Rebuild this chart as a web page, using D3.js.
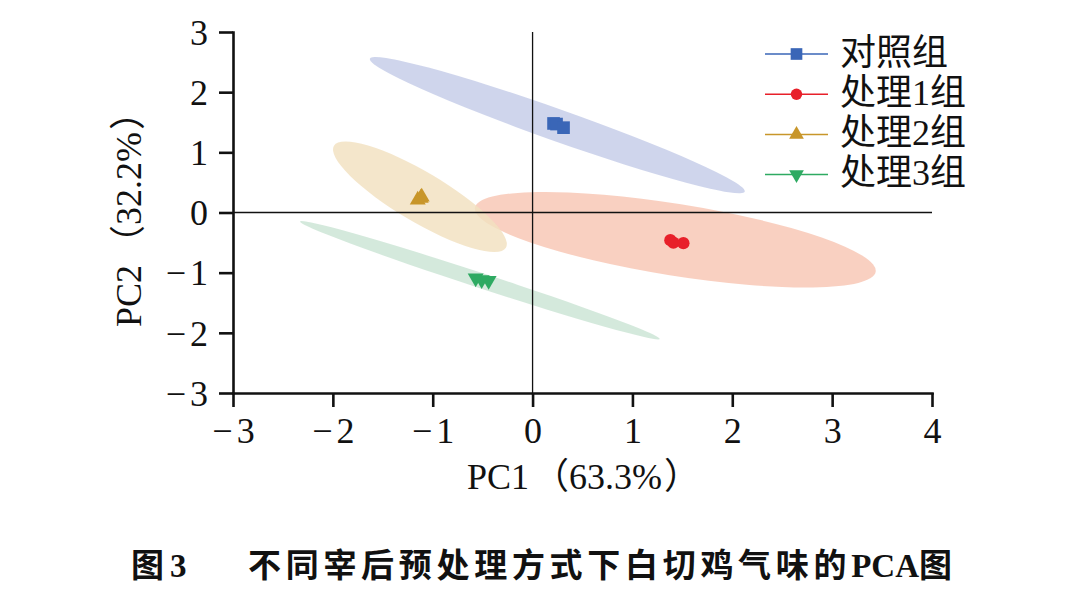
<!DOCTYPE html>
<html>
<head>
<meta charset="utf-8">
<script src="https://cdn.jsdelivr.net/npm/d3@7"></script>
<style>
  body { margin: 0; background: #fff; }
  svg text {
    font-family: "Liberation Serif", "Noto Sans CJK SC", serif; fill: #111;
    text-spacing-trim: space-all; font-feature-settings: "chws" 0, "halt" 0;
  }
  .axis path, .axis line { stroke: #111; stroke-width: 2.6; }
  .axis text { font-size: 36px; }
</style>
</head>
<body>
<svg id="pca" width="1080" height="595"></svg>
<script>
// groups
const groups = ["对照组", "处理1组", "处理2组", "处理3组"];
const groupColors = ["#3a66b7", "#e8202a", "#c8962a", "#2eaa62"];
const ellipseColors = ["#c5cce8", "#f8c6b3", "#f1e1c0", "#cbe4d4"];

// sample scores (PC1, PC2)
const ctrlX = [0.21, 0.24, 0.31];
const ctrlY = [1.48, 1.47, 1.41];
const t1X = [1.38, 1.41, 1.51];
const t1Y = [-0.46, -0.50, -0.51];
const t2X = [-1.15, -1.12, -1.11];
const t2Y = [0.21, 0.24, 0.26];
const t3X = [-0.57, -0.51, -0.44];
const t3Y = [-1.09, -1.12, -1.13];

// confidence ellipses: centre, major semi-axis vector, minor/major ratio
const ellipseCx = [0.248, 1.429, -1.128, -0.528];
const ellipseCy = [1.452, -0.453, 0.261, -1.126];
const ellipseAx = [1.877, 2.007, 0.861, 1.802];
const ellipseAy = [-1.103, -0.532, -0.847, -0.977];
const ellipseRatio = [0.08, 0.177, 0.25, 0.04];

const xTicks = [-3, -2, -1, 0, 1, 2, 3, 4];
const yTicks = [-3, -2, -1, 0, 1, 2, 3];

const xAxisLabel = ["PC1", "（", "63.3%", "）"];
const yAxisLabel = ["PC2", "（", "32.2%", "）"];
const captionFig = ["图", "3"];
const captionText = "不同宰后预处理方式下白切鸡气味的";
const captionEnd = ["PCA", "图"];

const svg = d3.select("#pca");
const margin = { top: 32, left: 233, right: 148, bottom: 202 };
const width = 1080, height = 595;

const xScale = d3.scaleLinear().domain([-3, 4]).range([margin.left, width - margin.right]);
const yScale = d3.scaleLinear().domain([-3, 3]).range([height - margin.bottom, margin.top]);

const series = [
  { xs: ctrlX, ys: ctrlY, sym: d3.symbolSquare, size: 160, rot: 0 },
  { xs: t1X, ys: t1Y, sym: d3.symbolCircle, size: 120, rot: 0 },
  { xs: t2X, ys: t2Y, sym: d3.symbolTriangle, size: 110, rot: 0 },
  { xs: t3X, ys: t3Y, sym: d3.symbolTriangle, size: 110, rot: 180 }
];

// ellipses
const ellG = svg.append("g");
groups.forEach((g, i) => {
  const cx = xScale(ellipseCx[i]), cy = yScale(ellipseCy[i]);
  const ex = xScale(ellipseCx[i] + ellipseAx[i]), ey = yScale(ellipseCy[i] + ellipseAy[i]);
  const rx = Math.hypot(ex - cx, ey - cy);
  const ang = Math.atan2(ey - cy, ex - cx) * 180 / Math.PI;
  ellG.append("ellipse")
    .attr("cx", 0).attr("cy", 0)
    .attr("rx", rx).attr("ry", rx * ellipseRatio[i])
    .attr("transform", `translate(${cx},${cy}) rotate(${ang})`)
    .attr("fill", ellipseColors[i])
    .attr("fill-opacity", 0.82);
});

// zero lines
svg.append("line")
  .attr("x1", xScale(0)).attr("x2", xScale(0))
  .attr("y1", yScale(3)).attr("y2", yScale(-3))
  .attr("stroke", "#111").attr("stroke-width", 1.3);
svg.append("line")
  .attr("x1", xScale(-3)).attr("x2", xScale(4))
  .attr("y1", yScale(0)).attr("y2", yScale(0))
  .attr("stroke", "#111").attr("stroke-width", 1.3);

// minus sign with a little gap, like the original typesetting
const splitMinus = function(d) {
  if (d >= 0) return;
  const t = d3.select(this).text("");
  t.append("tspan").text("\u2212");
  t.append("tspan").attr("dx", 4).text(Math.abs(d));
};
const tickFmt = d => String(d);

// axes
const xAxisG = svg.append("g")
  .attr("class", "axis")
  .attr("transform", `translate(0,${yScale(-3)})`)
  .call(d3.axisBottom(xScale).tickValues(xTicks).tickFormat(tickFmt)
    .tickSize(14).tickSizeOuter(0).tickPadding(6));
xAxisG.selectAll("text").attr("dy", "0.82em").each(splitMinus);

const yAxisG = svg.append("g")
  .attr("class", "axis")
  .attr("transform", `translate(${xScale(-3)},0)`)
  .call(d3.axisLeft(yScale).tickValues(yTicks).tickFormat(tickFmt)
    .tickSize(14).tickSizeOuter(0).tickPadding(11));
yAxisG.selectAll("text").attr("dy", "0.34em").each(splitMinus);
svg.selectAll(".axis .domain").attr("stroke-linecap", "square");

// points
series.forEach((s, i) => {
  svg.append("g").selectAll("path")
    .data(s.xs.map((x, j) => [x, s.ys[j]]))
    .join("path")
    .attr("d", d3.symbol().type(s.sym).size(s.size))
    .attr("transform", d => `translate(${xScale(d[0])},${yScale(d[1])}) rotate(${s.rot})`)
    .attr("fill", groupColors[i]);
});

// legend
const legend = svg.append("g").attr("transform", "translate(765,54)");
groups.forEach((g, i) => {
  const row = legend.append("g").attr("transform", `translate(0,${i * 40.2})`);
  row.append("line").attr("x1", 0).attr("x2", 63)
    .attr("stroke", groupColors[i]).attr("stroke-width", 1.5);
  row.append("path")
    .attr("d", d3.symbol().type(series[i].sym).size(series[i].size * 0.85))
    .attr("transform", `translate(31.5,0) rotate(${series[i].rot})`)
    .attr("fill", groupColors[i]);
  row.append("text").attr("x", 75).attr("y", 0).attr("dy", "0.3em")
    .attr("font-size", 36).text(g);
});

// axis titles, full-width brackets given their full em
const addTitle = (sel, parts) => {
  sel.append("tspan").text(parts[0]);
  sel.append("tspan").attr("dx", 4).text(parts[1]);
  sel.append("tspan").attr("dx", 0).text(parts[2]);
  sel.append("tspan").attr("dx", 2).text(parts[3]);
};
addTitle(svg.append("text")
  .attr("x", 467)
  .attr("y", 489)
  .attr("font-size", 36), xAxisLabel);

addTitle(svg.append("text")
  .attr("transform", `translate(141,327) rotate(-90)`)
  .attr("font-size", 36), yAxisLabel);

// caption
const cap = svg.append("g").attr("font-size", 33).attr("font-weight", "bold");
cap.append("text").attr("x", 131).attr("y", 577).text(captionFig[0]);
cap.append("text").attr("x", 170).attr("y", 577).text(captionFig[1]);
const capMain = cap.append("text").attr("x", 248).attr("y", 577);
capMain.append("tspan").attr("letter-spacing", 4.7).text(captionText);
capMain.append("tspan").text(captionEnd[0]);
capMain.append("tspan").text(captionEnd[1]);
</script>
</body>
</html>
